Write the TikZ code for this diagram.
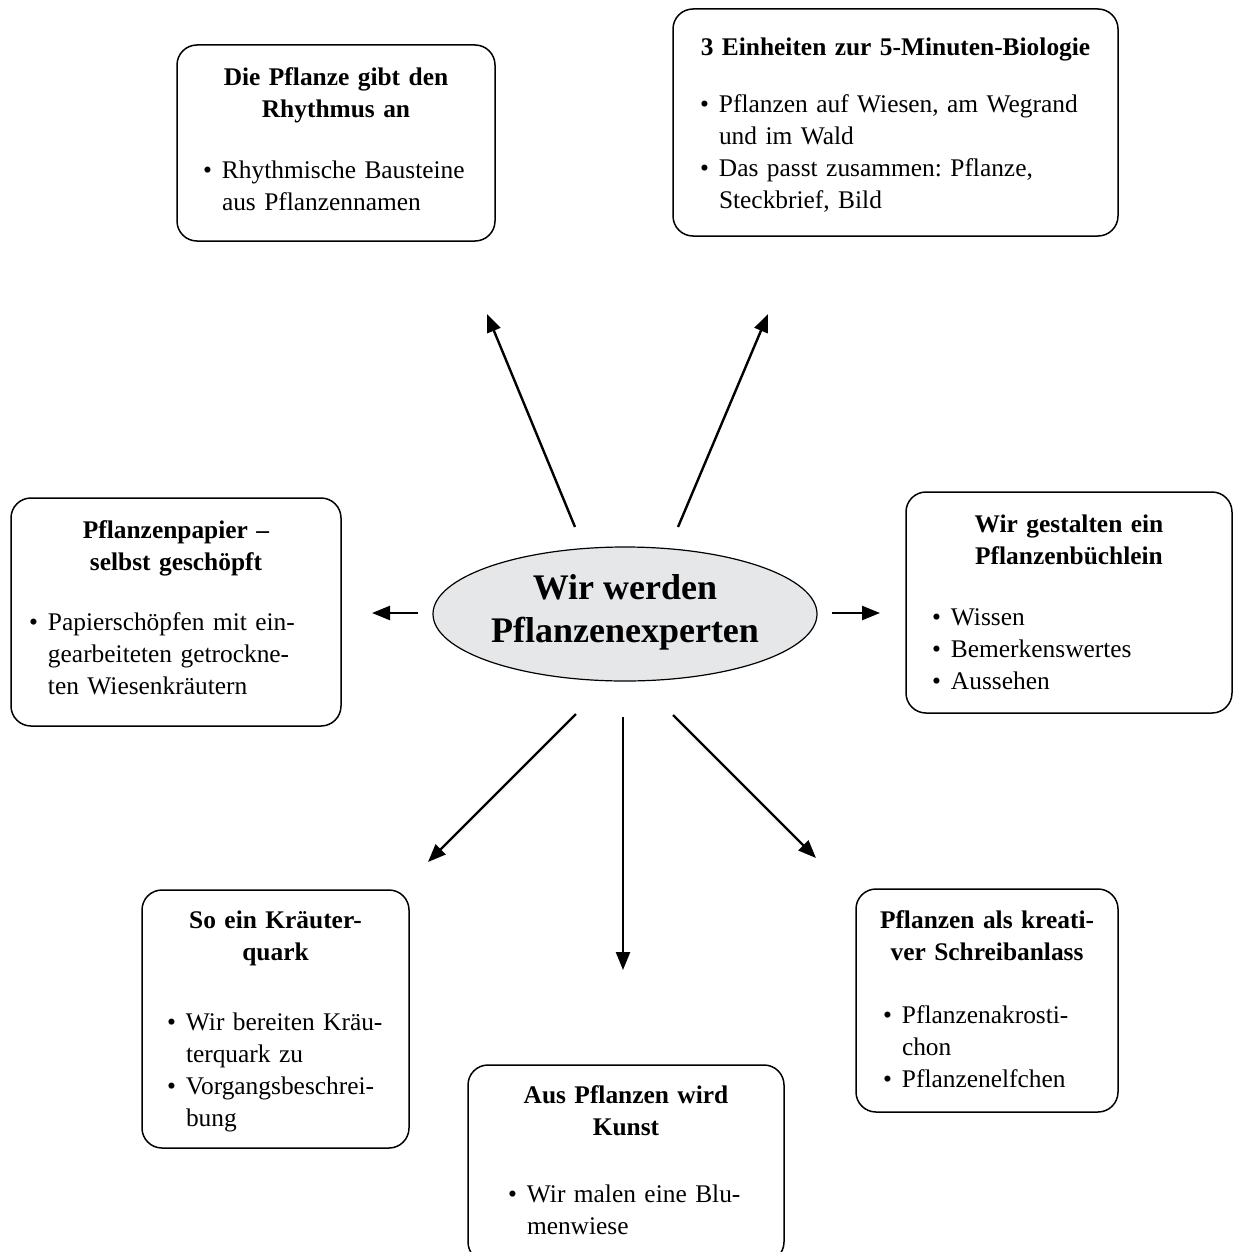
\documentclass[tikz,border=0pt]{standalone}
\usepackage{fontspec}
\setmainfont{Liberation Serif}
\usetikzlibrary{arrows.meta}
\usetikzlibrary{shapes.geometric}
\definecolor{kreisgrau}{RGB}{230,231,232}
\newlength{\punktweite}
\setlength{\punktweite}{9.5pt}
\newcommand{\kopf}[1]{\par\noindent\makebox[\linewidth]{\bfseries #1}\par}
\newcommand{\punkt}[1]{\par\noindent\makebox[\punktweite][l]{\textbullet}\mbox{#1}\par}
\newcommand{\weiter}[1]{\par\noindent\hspace*{\punktweite}\mbox{#1}\par}
\newcommand{\nachlauf}[1]{\par\nointerlineskip\vbox to #1{\vss}}
\frenchspacing
\begin{document}
\begin{tikzpicture}[->,>={Triangle[length=9pt,width=7pt]},x=0.5pt,y=-0.5pt,
			line width=1.2pt]
			\tikzstyle{thema}=[draw,line width=0.75pt,rounded corners=10pt,inner sep=0pt,
			align=left,font=\fontsize{12.7}{16}\selectfont\frenchspacing]
			\tikzstyle{mitte}=[ellipse,draw,fill=kreisgrau,line width=0.6pt,inner sep=0pt,
			align=center,font=\fontsize{18}{21.5}\selectfont\bfseries]
			
			\useasboundingbox (0,0) rectangle (1234,1252);
			
			\node[mitte,minimum width=192pt,minimum height=67pt] (experten) at (625,614)
			{Wir werden\\Pflanzenexperten\\[-16.5pt]};
			
			\node[thema,minimum width=159pt,minimum height=98pt,text width=133pt] (rhythmus) at (336,143)
			{\kopf{Die Pflanze gibt den}\kopf{Rhythmus an}\vspace*{14.5pt}
				\punkt{Rhythmische Bausteine}\weiter{aus Pflanzennamen}\nachlauf{11pt}};
			\node[thema,minimum width=222.5pt,minimum height=113.5pt,text width=195.5pt] (biologie) at (895.5,122.5)
			{\kopf{3 Einheiten zur 5-Minuten-Biologie}\vspace*{12.75pt}
				\punkt{Pflanzen auf Wiesen, am Wegrand}\weiter{und im Wald}
				\punkt{Das passt zusammen: Pflanze,}\weiter{Steckbrief, Bild}\nachlauf{4.75pt}};
			\node[thema,minimum width=165pt,minimum height=114pt,text width=147pt] (papier) at (176,612)
			{\kopf{Pflanzenpapier –}\kopf{selbst geschöpft}\vspace*{13.75pt}
				\punkt{Papierschöpfen mit ein-}\weiter{gearbeiteten getrockne-}\weiter{ten Wiesenkräutern}\nachlauf{11.25pt}};
			\node[thema,minimum width=163pt,minimum height=110.5pt,text width=137pt] (buechlein) at (1069,602.5)
			{\kopf{Wir gestalten ein}\kopf{Pflanzenbüchlein}\vspace*{14.5pt}
				\punkt{Wissen}\punkt{Bemerkenswertes}\punkt{Aussehen}\nachlauf{7pt}};
			\node[thema,minimum width=133.5pt,minimum height=129pt,text width=108.5pt] (quark) at (275.5,1019)
			{\kopf{So ein Kräuter-}\kopf{quark}\vspace*{19pt}
				\punkt{Wir bereiten Kräu-}\weiter{terquark zu}\punkt{Vorgangsbeschrei-}\weiter{bung}\nachlauf{4.5pt}};
			\node[thema,minimum width=158pt,minimum height=98.5pt,text width=118pt] (kunst) at (626,1163.5)
			{\kopf{Aus Pflanzen wird}\kopf{Kunst}\vspace*{17.5pt}
				\punkt{Wir malen eine Blu-}\weiter{menwiese}\nachlauf{10.5pt}};
			\node[thema,minimum width=131pt,minimum height=111.5pt,text width=104pt] (schreib) at (987,1000.5)
			{\kopf{Pflanzen als kreati-}\kopf{ver Schreibanlass}\vspace*{15.25pt}
				\punkt{Pflanzenakrosti-}\weiter{chon}\punkt{Pflanzenelfchen}\nachlauf{8.25pt}};
			
			% Pfeilenden rund um die Mitte
			\coordinate (s1) at (575,527);  \coordinate (z1) at (487,314);
			\coordinate (s2) at (678,527);  \coordinate (z2) at (768,314);
			\coordinate (s3) at (418,613);  \coordinate (z3) at (372,613);
			\coordinate (s4) at (832,613);  \coordinate (z4) at (880,613);
			\coordinate (s5) at (576,714);  \coordinate (z5) at (428,862);
			\coordinate (s6) at (623,717);  \coordinate (z6) at (623,970);
			\coordinate (s7) at (673,715);  \coordinate (z7) at (816,858);
			
			\path (s1) edge (z1)
			(s2) edge (z2)
			(s3) edge (z3)
			(s4) edge (z4)
			(s5) edge (z5)
			(s6) edge (z6)
			(s7) edge (z7)
			;
			\end{tikzpicture}
\end{document}
